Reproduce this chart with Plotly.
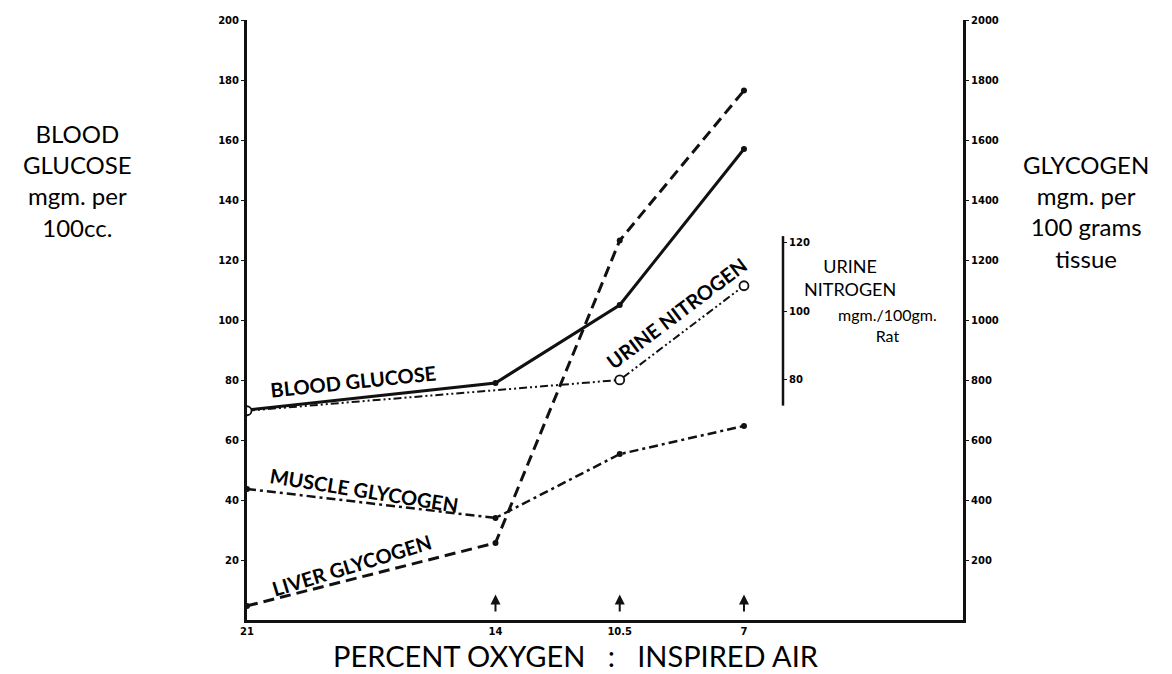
"""Hypoxia chart: blood glucose, glycogen and urine nitrogen vs percent oxygen."""

import plotly.graph_objects as go

OXYGEN = [21, 14, 10.5, 7]
OXYGEN_TICKS = ["21", "14", "10.5", "7"]

BLOOD_GLUCOSE = [70, 79, 105, 157]          # mgm per 100cc (left axis)
LIVER_GLYCOGEN = [47, 257, 1265, 1765]      # mgm per 100 g (right axis)
MUSCLE_GLYCOGEN = [437, 340, 553, 647]      # mgm per 100 g (right axis)
URINE_OXYGEN = [21, 10.5, 7]
URINE_NITROGEN = [71, 80, 107.5]            # mgm/100gm rat (inner axis)

LEFT_TICKS = list(range(20, 201, 20))
RIGHT_TICKS = list(range(200, 2001, 200))
URINE_TICKS = [80, 100, 120]

FONT = "Lato, Inter, Arial, sans-serif"
TICK_FONT = {"family": "DejaVu Sans, Arial", "size": 10, "color": "#000", "weight": "bold"}
INK = "#111111"

# plot area in pixels: x 247..963, y 20..620
L, R, T, B = 247, 963, 20, 620


def px(x, y):
    """Convert a picture pixel to paper coordinates (for titles only)."""
    return (x - L) / (R - L), (B - y) / (B - T)


fig = go.Figure()

fig.add_trace(go.Scatter(
    x=OXYGEN, y=BLOOD_GLUCOSE, mode="lines+markers", yaxis="y",
    line={"color": INK, "width": 3}, marker={"size": 6, "color": INK},
))
fig.add_trace(go.Scatter(
    x=OXYGEN, y=LIVER_GLYCOGEN, mode="lines+markers", yaxis="y2",
    line={"color": INK, "width": 3, "dash": "11px,6px"}, marker={"size": 6, "color": INK},
))
fig.add_trace(go.Scatter(
    x=OXYGEN, y=MUSCLE_GLYCOGEN, mode="lines+markers", yaxis="y2",
    line={"color": INK, "width": 2.5, "dash": "9px,4px,3px,4px"}, marker={"size": 6, "color": INK},
))
fig.add_trace(go.Scatter(
    x=URINE_OXYGEN, y=URINE_NITROGEN, mode="lines+markers", yaxis="y3",
    line={"color": INK, "width": 2, "dash": "8px,3px,2px,3px,2px,3px"},
    marker={"size": 9, "color": "white", "line": {"color": INK, "width": 1.8}},
))

URINE_POS = (783 - L) / (R - L)

fig.update_layout(
    width=1172, height=674,
    margin={"l": L, "r": 1172 - R, "t": T, "b": 674 - B, "autoexpand": False},
    paper_bgcolor="white", plot_bgcolor="white",
    showlegend=False,
    font={"family": FONT, "color": "#000"},
    xaxis={
        "range": [21, 0.83], "tickvals": OXYGEN, "ticktext": OXYGEN_TICKS,
        "showgrid": False, "zeroline": False, "showline": True, "linecolor": INK,
        "linewidth": 3, "ticks": "", "tickfont": TICK_FONT,
    },
    yaxis={
        "range": [0, 200], "tickvals": LEFT_TICKS, "showgrid": False, "zeroline": False,
        "showline": True, "linecolor": INK, "linewidth": 3, "ticks": "outside",
        "ticklen": 3, "tickcolor": INK, "tickfont": TICK_FONT,
    },
    yaxis2={
        "range": [0, 2000], "tickvals": RIGHT_TICKS, "overlaying": "y", "side": "right",
        "showgrid": False, "zeroline": False, "showline": True, "linecolor": INK,
        "linewidth": 3, "ticks": "outside", "ticklen": 3, "tickcolor": INK, "tickfont": TICK_FONT,
    },
    yaxis3={
        "range": [9.9, 185.1], "tickvals": URINE_TICKS, "overlaying": "y", "side": "right",
        "anchor": "free", "position": URINE_POS, "showgrid": False, "zeroline": False,
        "showline": False, "ticks": "outside", "ticklen": 3, "tickcolor": INK,
        "tickfont": TICK_FONT,
    },
)

# short vertical line of the urine nitrogen scale
fig.add_shape(type="line", xref="paper", yref="y3", x0=URINE_POS, x1=URINE_POS,
              y0=72.5, y1=122, line={"color": INK, "width": 2.5})

# arrows above the oxygen ticks
for ox in OXYGEN[1:]:
    fig.add_annotation(x=ox, y=8.5, ax=ox, ay=2.3, xref="x", yref="y", axref="x", ayref="y",
                       text="", showarrow=True, arrowhead=2, arrowsize=1, arrowwidth=2,
                       arrowcolor=INK)

# labels written along the curves
labels = [
    ("BLOOD GLUCOSE", 18.0, 79.8, -6),
    ("MUSCLE GLYCOGEN", 17.7, 43.3, 9),
    ("LIVER GLYCOGEN", 18.05, 18.5, -17),
    ("URINE NITROGEN", 8.9, 102.3, -37),
]
for text, x, y, angle in labels:
    fig.add_annotation(x=x, y=y, xref="x", yref="y", text=text, showarrow=False,
                       textangle=angle, font={"family": FONT, "size": 20, "weight": "bold"})

titles = [
    ("BLOOD<br>GLUCOSE<br>mgm. per<br>100cc.", 77, 180, 24),
    ("GLYCOGEN<br>mgm. per<br>100 grams<br>tissue", 1086, 211, 24),
    ("URINE<br>NITROGEN", 850, 277, 18),
    ("mgm./100gm.<br>Rat", 887, 325, 16),
    ("PERCENT OXYGEN   :   INSPIRED AIR", 576, 655, 29),
]
for text, x, y, size in titles:
    xp, yp = px(x, y)
    fig.add_annotation(x=xp, y=yp, xref="paper", yref="paper", xanchor="center",
                       yanchor="middle", text=text, showarrow=False, align="center",
                       font={"family": FONT, "size": size})

# drop the default page margin so the figure sits at the window's top-left corner
fig.write_html("out.html", config={"displayModeBar": False},
               post_script="document.body.style.margin='0';")
